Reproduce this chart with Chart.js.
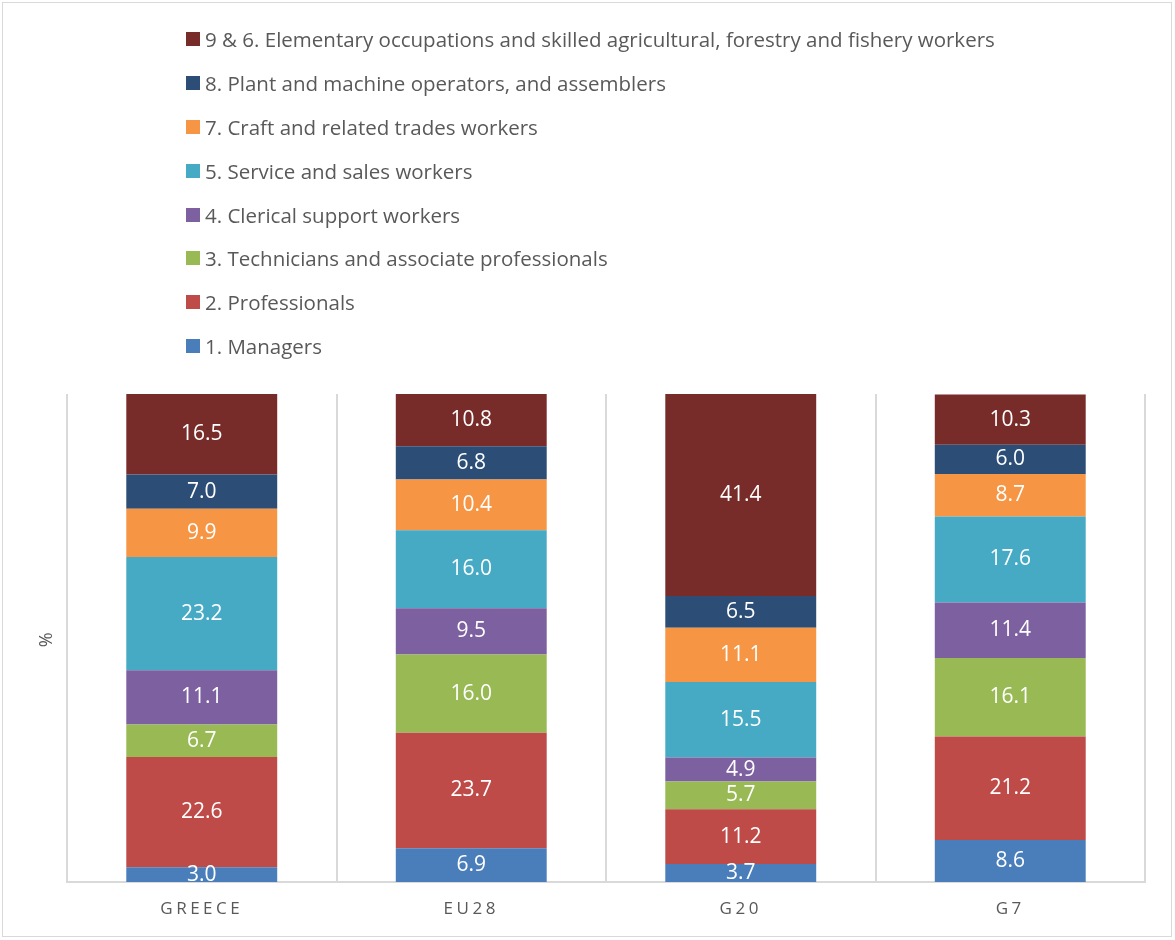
<!DOCTYPE html>
<html>
<head>
<meta charset="utf-8">
<script src="https://cdn.jsdelivr.net/npm/chart.js@4"></script>
<style>
  body { margin: 0; background: #fff; }
  #wrap { position: relative; width: 1175px; height: 940px; font-family: "Open Sans", sans-serif; }
  #frame { position: absolute; left: 2px; top: 2px; width: 1168px; height: 933px; border: 1.5px solid #d9d9d9; pointer-events: none; }
  #legend { position: absolute; left: 186px; top: 17px; }
  .item { height: 43.9px; display: flex; align-items: center; color: #595959; font-size: 20.5px; }
  .box { width: 14px; height: 14px; margin-right: 5px; flex: none; }
</style>
</head>
<body>
<div id="wrap">
  <canvas id="occChart"></canvas>
  <div id="legend"></div>
  <div id="frame"></div>
</div>
<script>
const regions = ['GREECE', 'EU28', 'G20', 'G7'];

const groups = [
  '1. Managers',
  '2. Professionals',
  '3. Technicians and associate professionals',
  '4. Clerical support workers',
  '5. Service and sales workers',
  '7. Craft and related trades workers',
  '8. Plant and machine operators, and assemblers',
  '9 & 6. Elementary occupations and skilled agricultural, forestry and fishery workers'
];

const colours = ['#4a7ebb', '#be4b48', '#98b954', '#7d60a0', '#46aac5', '#f69544', '#2c4d75', '#772c2a'];

// one array per occupation group, in order GREECE, EU28, G20, G7
const managers     = [3.0, 6.9, 3.7, 8.6];
const professionals = [22.6, 23.7, 11.2, 21.2];
const technicians  = [6.7, 16.0, 5.7, 16.1];
const clerical     = [11.1, 9.5, 4.9, 11.4];
const service      = [23.2, 16.0, 15.5, 17.6];
const craft        = [9.9, 10.4, 11.1, 8.7];
const operators    = [7.0, 6.8, 6.5, 6.0];
const elementary   = [16.5, 10.8, 41.4, 10.3];

const series = [managers, professionals, technicians, clerical, service, craft, operators, elementary];

const grey = '#595959';

// values in the middle of each segment
const segLabels = {
  id: 'segLabels',
  afterDatasetsDraw(chart) {
    const c = chart.ctx;
    c.save();
    c.fillStyle = '#fff';
    c.font = '21px "Open Sans", sans-serif';
    c.textAlign = 'center';
    c.textBaseline = 'middle';
    chart.data.datasets.forEach((ds, i) => {
      chart.getDatasetMeta(i).data.forEach((bar, j) => {
        c.fillText(ds.data[j].toFixed(1), bar.x, (bar.y + bar.base) / 2);
      });
    });
    c.restore();
  }
};

// spaced-out category labels, like the original
const spacing = {
  id: 'spacing',
  beforeDraw(chart) { chart.ctx.letterSpacing = '3.5px'; },
  beforeDatasetsDraw(chart) { chart.ctx.letterSpacing = '0px'; }
};

const chart = new Chart(document.getElementById('occChart'), {
  type: 'bar',
  data: {
    labels: regions,
    datasets: groups.map((g, i) => ({
      label: g,
      data: series[i],
      backgroundColor: colours[i],
      borderWidth: 0,
      barPercentage: 0.56,
      categoryPercentage: 1
    }))
  },
  options: {
    responsive: true,
    maintainAspectRatio: false,
    animation: false,
    layout: { padding: { top: 394, left: 10, right: 30, bottom: 0 } },
    plugins: { legend: { display: false }, tooltip: { enabled: false } },
    scales: {
      x: {
        stacked: true,
        grid: { color: '#d9d9d9', lineWidth: 2, drawTicks: false, offset: true },
        border: { color: '#d9d9d9', width: 2 },
        ticks: { color: grey, font: { family: '"Open Sans", sans-serif', size: 17 }, padding: 17 },
        afterFit(s) { s.height = 58; }
      },
      y: {
        stacked: true,
        min: 0,
        max: 100,
        ticks: { display: false },
        grid: { display: false },
        border: { display: false },
        title: { display: true, text: '%', color: grey, font: { family: '"Open Sans", sans-serif', size: 18 }, padding: { top: 26, bottom: 0 } },
        afterFit(s) { s.width = 57; }
      }
    }
  },
  plugins: [segLabels, spacing]
});

// legend, one entry per row, top item first
const leg = document.getElementById('legend');
chart.data.datasets.slice().reverse().forEach(ds => {
  const row = document.createElement('div');
  row.className = 'item';
  const box = document.createElement('span');
  box.className = 'box';
  box.style.background = ds.backgroundColor;
  row.appendChild(box);
  row.appendChild(document.createTextNode(ds.label));
  leg.appendChild(row);
});
</script>
</body>
</html>
